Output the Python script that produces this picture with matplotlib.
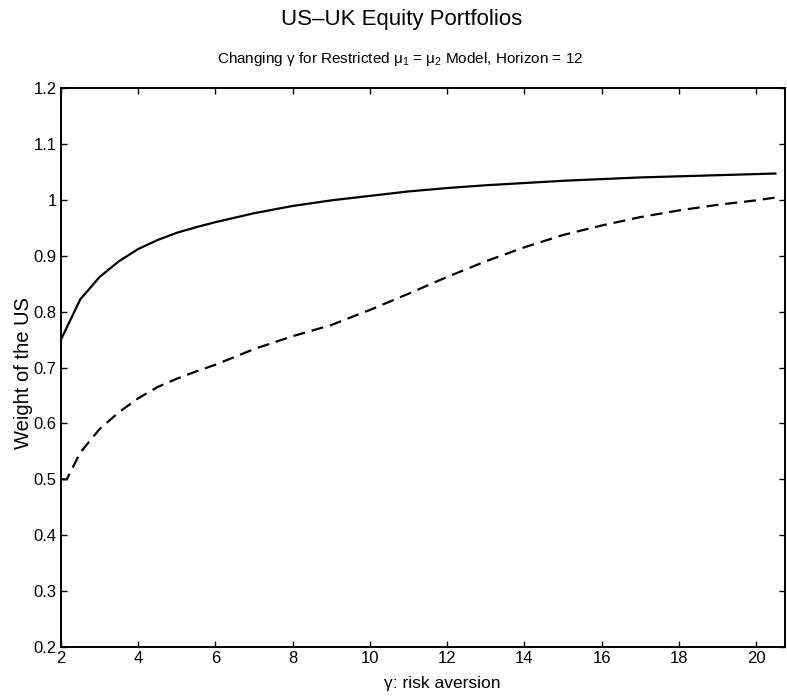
import matplotlib
matplotlib.use("Agg")
import matplotlib.pyplot as plt

# Risk aversion grid and portfolio weight of the US
gamma_solid = [2.0, 2.5, 3.0, 3.5, 4.0, 4.5, 5.0, 5.5, 6.0, 7.0, 8.0, 9.0, 10.0,
               11.0, 12.0, 13.0, 14.0, 15.0, 16.0, 17.0, 18.0, 19.0, 20.0, 20.5]
weight_solid = [0.750, 0.822, 0.862, 0.890, 0.912, 0.928, 0.941, 0.951, 0.960,
                0.976, 0.989, 0.999, 1.007, 1.015, 1.021, 1.026, 1.030, 1.034,
                1.037, 1.040, 1.042, 1.044, 1.046, 1.047]

gamma_dashed = [2.0, 2.15, 2.5, 3.0, 3.5, 4.0, 4.5, 5.0, 5.5, 6.0, 7.0, 8.0, 9.0,
                10.0, 11.0, 12.0, 13.0, 14.0, 15.0, 16.0, 17.0, 18.0, 19.0, 20.0, 20.5]
weight_dashed = [0.500, 0.500, 0.548, 0.590, 0.620, 0.645, 0.665, 0.680, 0.693,
                 0.705, 0.733, 0.756, 0.776, 0.803, 0.832, 0.862, 0.890, 0.915,
                 0.937, 0.954, 0.969, 0.981, 0.991, 0.999, 1.004]

x_ticks = [2, 4, 6, 8, 10, 12, 14, 16, 18, 20]
y_ticks = [0.2, 0.3, 0.4, 0.5, 0.6, 0.7, 0.8, 0.9, 1.0, 1.1, 1.2]
y_tick_labels = ["0.2", "0.3", "0.4", "0.5", "0.6", "0.7", "0.8", "0.9", "1", "1.1", "1.2"]

plt.rcParams["font.family"] = ["Liberation Sans", "DejaVu Sans"]
plt.rcParams["mathtext.fontset"] = "custom"
plt.rcParams["mathtext.rm"] = "Liberation Sans"
plt.rcParams["mathtext.it"] = "Liberation Sans"

fig = plt.figure(figsize=(7.87, 6.96), dpi=100)
ax = fig.add_axes([61 / 787, 49 / 696, 724 / 787, 559 / 696])

ax.plot(gamma_solid, weight_solid, color="black", lw=1.6)
ax.plot(gamma_dashed, weight_dashed, color="black", lw=1.6, dashes=(5.4, 3.1))

ax.set_xlim(2, 20.75)
ax.set_ylim(0.2, 1.2)
ax.set_xticks(x_ticks)
ax.set_yticks(y_ticks)
ax.set_yticklabels(y_tick_labels)
ax.tick_params(direction="in", length=4, width=1.0, labelsize=12,
               top=True, right=True, pad=3)
for s in ax.spines.values():
    s.set_linewidth(1.4)

ax.set_xlabel("γ: risk aversion", fontsize=12.5)
ax.xaxis.set_label_coords(0.527, -0.052)
ax.set_ylabel("Weight of the US", fontsize=14.5)
ax.yaxis.set_label_coords(-0.039, 0.49)

fig.text(402 / 787, 1 - 19 / 696, "US–UK Equity Portfolios", fontsize=16,
         ha="center", va="center")
fig.text(400 / 787, 1 - 59 / 696,
         r"Changing γ for Restricted $\mu_1$ = $\mu_2$ Model, Horizon = 12",
         fontsize=11, ha="center", va="center")

fig.savefig("out.png", dpi=100)
